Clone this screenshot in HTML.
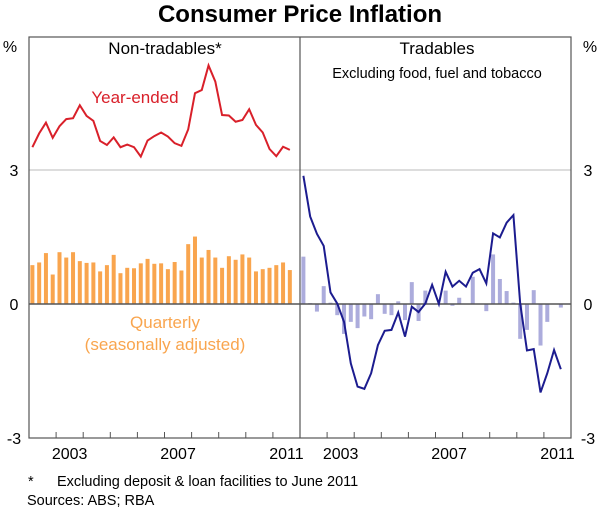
<!DOCTYPE html>
<html><head><meta charset="utf-8"><style>
body{margin:0;background:#fff;}
svg text{font-family:"Liberation Sans",Arial,sans-serif;}
</style></head><body>
<svg id="c" width="600" height="512" xmlns="http://www.w3.org/2000/svg">
<text x="300" y="22" text-anchor="middle" font-size="24" font-weight="bold" fill="#000">Consumer Price Inflation</text>
<text x="10" y="52" text-anchor="middle" font-size="16">%</text>
<text x="590" y="52" text-anchor="middle" font-size="16">%</text>
<g id="grid"></g>
<g id="marks"></g>
<g id="frame"></g>
<text x="165" y="54" text-anchor="middle" font-size="17">Non-tradables*</text>
<text x="437" y="54" text-anchor="middle" font-size="17">Tradables</text>
<text x="437" y="78" text-anchor="middle" font-size="14.5">Excluding food, fuel and tobacco</text>
<text x="135" y="103" text-anchor="middle" font-size="17" fill="#d9202a">Year-ended</text>
<text x="165" y="328" text-anchor="middle" font-size="17" fill="#f9a54e">Quarterly</text>
<text x="165" y="350" text-anchor="middle" font-size="17" fill="#f9a54e">(seasonally adjusted)</text>
<text x="28" y="486" font-size="14.5">*</text>
<text x="57" y="486" font-size="14.5">Excluding deposit &amp; loan facilities to June 2011</text>
<text x="27" y="505" font-size="14.5">Sources: ABS; RBA</text>
</svg>
<script>
const ntYearEnded=[3.51,3.82,4.06,3.72,3.98,4.14,4.16,4.45,4.21,4.10,3.65,3.56,3.73,3.51,3.57,3.51,3.30,3.66,3.76,3.84,3.75,3.60,3.54,3.91,4.72,4.79,5.34,4.98,4.23,4.22,4.08,4.12,4.36,4.01,3.84,3.47,3.31,3.52,3.45];
const ntQuarterly=[0.87,0.93,1.14,0.66,1.16,1.04,1.16,0.96,0.92,0.93,0.73,0.87,1.10,0.69,0.81,0.80,0.91,1.01,0.90,0.91,0.78,0.94,0.75,1.34,1.51,1.04,1.21,1.04,0.81,1.07,0.99,1.11,1.04,0.73,0.78,0.81,0.87,0.93,0.76];
const trYearEnded=[2.87,1.96,1.57,1.30,0.26,0.01,-0.40,-1.33,-1.85,-1.90,-1.55,-0.92,-0.60,-0.58,-0.19,-0.73,-0.06,-0.18,0.01,0.43,0.0,0.72,0.39,0.52,0.39,0.70,0.78,0.46,1.58,1.49,1.82,1.99,0.01,-1.04,-1.01,-1.98,-1.55,-1.03,-1.46];
const trQuarterly=[1.06,0.02,-0.17,0.40,0.03,-0.25,-0.67,-0.40,-0.54,-0.28,-0.34,0.22,-0.22,-0.25,0.06,-0.36,0.49,-0.38,0.30,0.0,0.0,0.30,-0.04,0.14,0.0,0.61,0.0,-0.16,1.11,0.56,0.29,0.03,-0.78,-0.58,0.31,-0.93,-0.40,0.0,-0.08];
const yTicks=[3,0,-3];
const yearLabels=["2003","2007","2011"];
const startYear=2002, endYear=2012;

const NS="http://www.w3.org/2000/svg";
const plotTop=37,plotBottom=438,L0=29,midX=300,R1=571;
function yS(v){return 304-v*(134/3);}
function xq(panel,i){const x0=panel?midX:L0;const w=(midX-L0)/((endYear-startYear)*4);return x0+(i+0.5)*w;}
function xyear(panel,yr){const x0=panel?midX:L0;return x0+(yr-startYear)*(midX-L0)/(endYear-startYear);}
function mk(tag,attrs,parent){const e=document.createElementNS(NS,tag);for(const k in attrs)e.setAttribute(k,attrs[k]);parent.appendChild(e);return e;}
const gridG=document.getElementById('grid'),marksG=document.getElementById('marks'),frameG=document.getElementById('frame'),svgEl=document.getElementById('c');
let g3=mk('line',{x1:L0,x2:R1,y1:yS(3),y2:yS(3),stroke:'#bbb','stroke-width':1},gridG);


yTicks.forEach(t=>{
  let a=mk('text',{x:14,y:yS(t)+6,'text-anchor':'middle','font-size':16},svgEl);a.textContent=t;
  
  
  let b=mk('text',{x:588,y:yS(t)+6,'text-anchor':'middle','font-size':16},svgEl);b.textContent=t;
  
  
});
const bw=4;
ntQuarterly.forEach((v,i)=>{
  const cx=xq(0,i);
  let r=mk('rect',{x:cx-bw/2,y:Math.min(yS(v),yS(0)),width:bw,height:Math.abs(yS(v)-yS(0)),fill:'#f9a54e'},marksG);
  
  
});
trQuarterly.forEach((v,i)=>{
  const cx=xq(1,i);
  let r=mk('rect',{x:cx-bw/2,y:Math.min(yS(v),yS(0)),width:bw,height:Math.abs(yS(v)-yS(0)),fill:'#acacdc'},marksG);
  
  
});
let z=mk('line',{x1:L0,x2:R1,y1:yS(0),y2:yS(0),stroke:'#555','stroke-width':1.5},marksG);


let p1=mk('polyline',{points:ntYearEnded.map((v,i)=>xq(0,i)+','+yS(v)).join(' '),fill:'none',stroke:'#d9202a','stroke-width':2},marksG);


let p2=mk('polyline',{points:trYearEnded.map((v,i)=>xq(1,i)+','+yS(v)).join(' '),fill:'none',stroke:'#1c1c8f','stroke-width':2},marksG);


let fr=mk('rect',{x:L0,y:plotTop,width:R1-L0,height:plotBottom-plotTop,fill:'none',stroke:'#555','stroke-width':1.2},frameG);


let dv=mk('line',{x1:midX,x2:midX,y1:plotTop,y2:plotBottom,stroke:'#555','stroke-width':1.2},frameG);


[0,1].forEach(p=>{
  for(let yr=startYear+1;yr<endYear;yr++){
    const x=xyear(p,yr);
    let t=mk('line',{x1:x,x2:x,y1:plotBottom,y2:plotBottom-6,stroke:'#555','stroke-width':1},frameG);
    
    
  }
  yearLabels.forEach(l=>{
    const x=xyear(p,+l+0.5);
    let t=mk('text',{x:x,y:459,'text-anchor':'middle','font-size':16},svgEl);t.textContent=l;
    
    
  });
});
</script>
</body></html>
